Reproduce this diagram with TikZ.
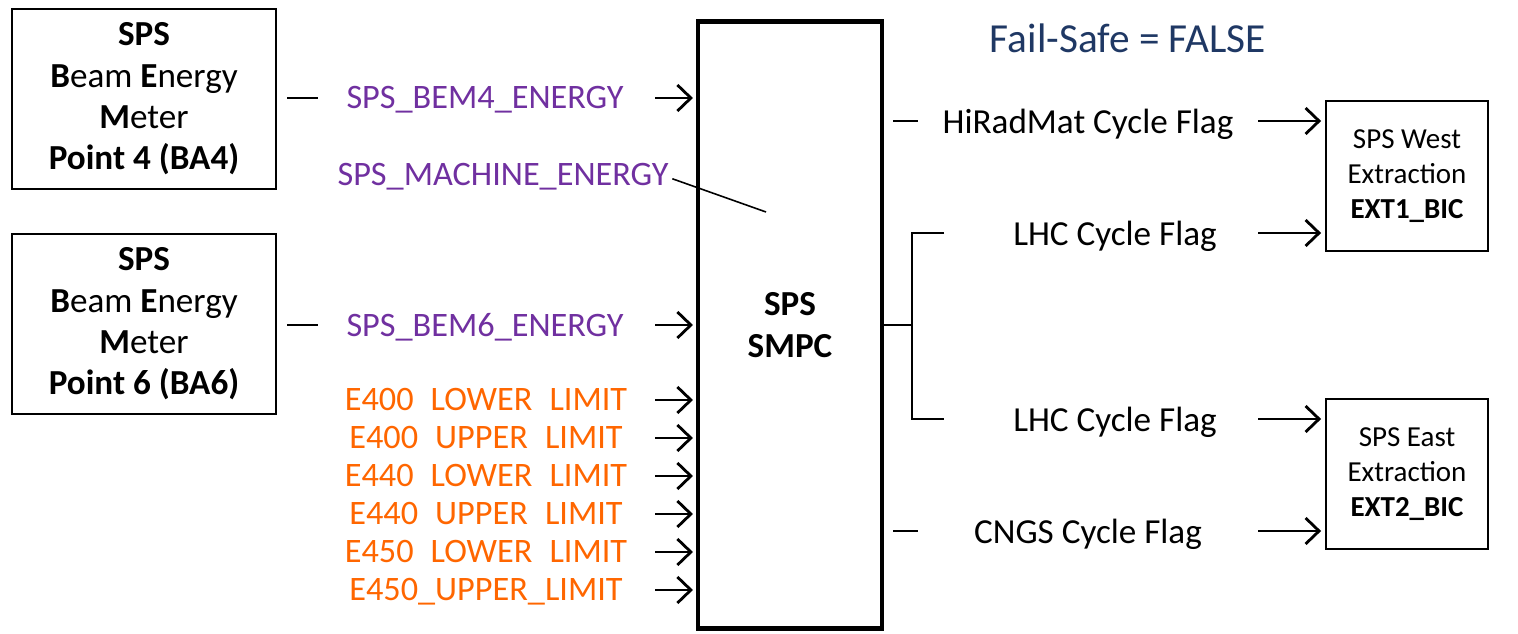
\documentclass[tikz,border=0pt]{standalone}
\usepackage{fontspec}
\setmainfont{Carlito}
\usetikzlibrary{arrows.meta, positioning}
\definecolor{Purple}{HTML}{7030A0}
\definecolor{Orange}{HTML}{FF6600}
\definecolor{Navy}  {HTML}{1F3864}
\tikzset{
  box/.style={draw, line width=1.6pt, align=center, inner sep=0pt},
  arr/.style={-{Straight Barb[length=0.27cm,width=0.52cm]}, line width=1.6pt},
  wire/.style={line width=1.5pt}
}

\begin{document}
\begin{tikzpicture}[
  x=0.02cm, y=-0.02cm,
  bem/.style={box,minimum width=5.28cm,minimum height=3.6cm,
              font=\fontsize{20}{23.5}\selectfont},
  ext/.style={box,minimum width=3.24cm,minimum height=3cm,
              font=\fontsize{16.5}{20}\selectfont},
  smpc/.style={box,line width=2.8pt,minimum width=3.68cm,minimum height=12.16cm,
               font=\fontsize{20}{24}\selectfont\bfseries},
  sig/.style={font=\fontsize{19.5}{22}\selectfont,color=Purple,inner sep=0pt},
  lim/.style={font=\fontsize{19.5}{22}\selectfont,color=Orange,inner sep=0pt},
  flag/.style={font=\fontsize{20}{24}\selectfont,inner sep=0pt}
]
  \useasboundingbox (0,0) rectangle (1518,634);

  % blocks
  \node[bem]  (BA4)  at (144,99)  {\textbf{SPS}\\\textbf{B}eam \textbf{E}nergy\\\textbf{M}eter\\\textbf{Point 4 (BA4)}};
  \node[bem]  (BA6)  at (144,324) {\textbf{SPS}\\\textbf{B}eam \textbf{E}nergy\\\textbf{M}eter\\\textbf{Point 6 (BA6)}};
  \node[smpc] (SMPC) at (790,325) {SPS\\SMPC};
  \node[ext]  (EXT1) at (1407,176) {SPS West\\Extraction\\\textbf{EXT1\_BIC}};
  \node[ext]  (EXT2) at (1407,474) {SPS East\\Extraction\\\textbf{EXT2\_BIC}};
  \node[font=\fontsize{23.5}{28}\selectfont,color=Navy] (FS) at (1128,38) {Fail-Safe = FALSE};

  % energy inputs
  \node[sig] (BEM4) at (485,100) {SPS\_BEM4\_ENERGY};
  \node[sig] (BEM6) at (485,327) {SPS\_BEM6\_ENERGY};
  \node[sig] (ME)   at (503,177) {SPS\_MACHINE\_ENERGY};
  \coordinate (BEM4a) at (318,98);  \coordinate (BEM4b) at (655,98);
  \coordinate (BEM6a) at (318,325); \coordinate (BEM6b) at (655,325);
  \coordinate (MEin)  at (766,212);
  \draw[wire,shorten <=0.2cm] (BA4.east |- BEM4a) -- (BEM4a);
  \draw[arr,shorten >=1.5pt] (BEM4b) -- (SMPC.west |- BEM4b);
  \draw[wire,shorten <=0.2cm] (BA6.east |- BEM6a) -- (BEM6a);
  \draw[arr,shorten >=1.5pt] (BEM6b) -- (SMPC.west |- BEM6b);
  \draw[line width=0.9pt] ([xshift=2pt,yshift=-1pt]ME.east) -- (MEin);

  % energy limits
  \foreach \t [count=\i] in {E400\phantom{\_}LOWER\phantom{\_}LIMIT,
                             E400\phantom{\_}UPPER\phantom{\_}LIMIT,
                             E440\phantom{\_}LOWER\phantom{\_}LIMIT,
                             E440\phantom{\_}UPPER\phantom{\_}LIMIT,
                             E450\phantom{\_}LOWER\phantom{\_}LIMIT,
                             E450\_UPPER\_LIMIT}{
    \pgfmathsetmacro\yy{362+38*\i}
    \node[lim] (lim\i) at (486,\yy+2) {\t};
    \coordinate (limS\i) at (655,\yy);
    \draw[arr,shorten >=1.5pt] (limS\i) -- (SMPC.west |- limS\i);
  }

  % cycle flags
  \node[flag] (HRM)  at (1088,124) {HiRadMat Cycle Flag};
  \node[flag] (LHC1) at (1115,236) {LHC Cycle Flag};
  \node[flag] (LHC2) at (1115,422) {LHC Cycle Flag};
  \node[flag] (CNGS) at (1088,534) {CNGS Cycle Flag};
  \coordinate (HRMa) at (918,121);  \coordinate (CNGSa) at (918,531);
  \coordinate (br)   at (912,325);
  \coordinate (LHC1a) at (944,233); \coordinate (LHC2a) at (944,419);
  \draw[wire,shorten <=0.18cm] (SMPC.east |- HRMa) -- (HRMa);
  \draw[wire,shorten <=0.18cm] (SMPC.east |- CNGSa) -- (CNGSa);
  \draw[wire] (SMPC.east |- br) -- (br);
  \draw[wire] (LHC1a) -| (br) |- (LHC2a);
  \foreach \f/\b in {HRMa/EXT1, LHC1a/EXT1, LHC2a/EXT2, CNGSa/EXT2}
    \draw[arr,shorten >=2pt] (1258,0 |- \f) -- (\b.west |- \f);
\end{tikzpicture}
\end{document}
